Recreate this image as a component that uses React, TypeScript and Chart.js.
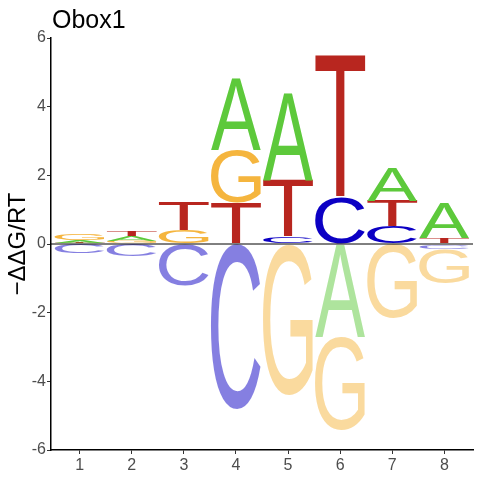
import { useEffect, useRef } from 'react';
import { Chart, registerables } from 'chart.js';

Chart.register(...registerables);

// positions along the motif
const positions = [1, 2, 3, 4, 5, 6, 7, 8];
const bases = ['A', 'C', 'G', 'T'];

const scoreA = [0.08, 0.13, 0, 2.07, 2.54, -2.71, 0.97, 1.02];
const scoreC = [-0.26, -0.36, -1.21, -4.81, 0.2, 1.34, 0.5, -0.14];
const scoreG = [0.17, 0.09, 0.39, 1.54, -4.39, -2.72, -2.16, -1.0];
const scoreT = [0.04, 0.16, 0.84, 1.19, 1.66, 4.15, 0.74, 0.17];

const yTicks = [-6, -4, -2, 0, 2, 4, 6];

const baseColors: Record<string, string> = {
    A: '#5dc93b',
    C: '#0c00c4',
    G: '#f5b53e',
    T: '#b8261f'
};

const FONT = '"Liberation Sans", Arial, sans-serif';

function buildLayers() {
    const scores: Record<string, number[]> = { A: scoreA, C: scoreC, G: scoreG, T: scoreT };
    const pos: { letter: string; value: number }[][] = [];
    const neg: { letter: string; value: number }[][] = [];
    positions.forEach((_, j) => {
        const all = bases.map((b) => ({ letter: b, value: scores[b][j] }));
        pos.push(all.filter((e) => e.value > 0).sort((a, b) => a.value - b.value));
        neg.push(all.filter((e) => e.value < 0).sort((a, b) => b.value - a.value));
    });
    const datasets: any[] = [];
    [pos, neg].forEach((side) => {
        for (let k = 0; k < bases.length; k++) {
            datasets.push({
                data: positions.map((p, j) => ({ x: p, y: side[j][k] ? side[j][k].value : 0 })),
                letters: positions.map((_, j) => (side[j][k] ? side[j][k].letter : '')),
                backgroundColor: 'rgba(0,0,0,0)',
                borderWidth: 0
            });
        }
    });
    return datasets;
}

function drawGlyph(ctx: CanvasRenderingContext2D, letter: string, left: number, top: number, w: number, h: number) {
    ctx.save();
    ctx.font = `100px ${FONT}`;
    ctx.textAlign = 'left';
    ctx.textBaseline = 'alphabetic';
    const m = ctx.measureText(letter);
    const gw = m.actualBoundingBoxLeft + m.actualBoundingBoxRight;
    const gh = m.actualBoundingBoxAscent + m.actualBoundingBoxDescent;
    ctx.translate(left, top);
    ctx.scale(w / gw, h / gh);
    ctx.fillText(letter, m.actualBoundingBoxLeft, m.actualBoundingBoxAscent);
    ctx.restore();
}

const logoPlugin = {
    id: 'logoLetters',
    afterDatasetsDraw(chart: any) {
        const ctx: CanvasRenderingContext2D = chart.ctx;
        chart.data.datasets.forEach((ds: any, i: number) => {
            const meta = chart.getDatasetMeta(i);
            meta.data.forEach((bar: any, j: number) => {
                const letter = ds.letters[j];
                if (!letter) return;
                const { x, y, base, width } = bar.getProps(['x', 'y', 'base', 'width'], true);
                const h = Math.abs(base - y);
                if (h <= 0) return;
                const value = ds.data[j].y;
                ctx.save();
                ctx.fillStyle = baseColors[letter];
                ctx.globalAlpha = value < 0 ? 0.5 : 1;
                drawGlyph(ctx, letter, x - width / 2, Math.min(y, base), width, h);
                ctx.restore();
            });
        });

        // zero line
        const { left, right } = chart.chartArea;
        const y0 = chart.scales.y.getPixelForValue(0);
        ctx.save();
        ctx.strokeStyle = '#000000';
        ctx.lineWidth = 1;
        ctx.beginPath();
        ctx.moveTo(left, y0);
        ctx.lineTo(right, y0);
        ctx.stroke();
        ctx.restore();
    },
    afterDraw(chart: any) {
        const ctx: CanvasRenderingContext2D = chart.ctx;
        ctx.save();
        ctx.fillStyle = '#000000';
        ctx.font = `25px ${FONT}`;
        ctx.textAlign = 'left';
        ctx.textBaseline = 'alphabetic';
        ctx.fillText('Obox1', 52, 28);

        const { top, bottom } = chart.chartArea;
        ctx.translate(18, (top + bottom) / 2);
        ctx.rotate(-Math.PI / 2);
        ctx.font = `24px ${FONT}`;
        ctx.textAlign = 'center';
        ctx.textBaseline = 'middle';
        ctx.fillText('\u2212\u0394\u0394G/RT', 0, 0);
        ctx.restore();
    }
};

export default function App() {
    const canvasRef = useRef<HTMLCanvasElement>(null);
    const chartRef = useRef<Chart | null>(null);

    useEffect(() => {
        if (!canvasRef.current) return;
        if (chartRef.current) {
            chartRef.current.destroy();
        }
        const ctx = canvasRef.current.getContext('2d');
        if (!ctx) return;

        chartRef.current = new Chart(ctx, {
            type: 'bar',
            data: { datasets: buildLayers() },
            plugins: [logoPlugin],
            options: {
                animation: false,
                responsive: false,
                maintainAspectRatio: false,
                events: [],
                layout: { padding: { top: 38, right: 7, left: 0, bottom: 0 } },
                datasets: {
                    bar: { barPercentage: 0.96, categoryPercentage: 1 }
                },
                plugins: {
                    legend: { display: false },
                    tooltip: { enabled: false },
                    title: { display: false }
                },
                scales: {
                    x: {
                        type: 'linear',
                        stacked: true,
                        offset: false,
                        min: 0.45,
                        max: 8.55,
                        afterBuildTicks: (scale: any) => {
                            scale.ticks = positions.map((v) => ({ value: v }));
                        },
                        afterFit: (scale: any) => {
                            scale.height = 30;
                        },
                        grid: {
                            display: true,
                            offset: false,
                            drawOnChartArea: false,
                            drawTicks: true,
                            tickLength: 4,
                            color: '#333333',
                            lineWidth: 1
                        },
                        border: { display: true, color: '#000000', width: 1.5 },
                        ticks: {
                            color: '#4d4d4d',
                            padding: 2,
                            font: { family: FONT, size: 16 },
                            callback: (v: any) => String(v)
                        }
                    },
                    y: {
                        type: 'linear',
                        stacked: true,
                        min: -6,
                        max: 6,
                        afterBuildTicks: (scale: any) => {
                            scale.ticks = yTicks.map((v) => ({ value: v }));
                        },
                        afterFit: (scale: any) => {
                            scale.width = 51;
                        },
                        grid: {
                            display: true,
                            drawOnChartArea: false,
                            drawTicks: true,
                            tickLength: 4,
                            color: '#333333',
                            lineWidth: 1
                        },
                        border: { display: true, color: '#000000', width: 1.5 },
                        ticks: {
                            color: '#4d4d4d',
                            padding: 1,
                            font: { family: FONT, size: 16 },
                            callback: (v: any) => String(v)
                        }
                    }
                }
            } as any
        });

        return () => {
            if (chartRef.current) {
                chartRef.current.destroy();
                chartRef.current = null;
            }
        };
    }, []);

    return (
        <div style={{ position: 'fixed', left: 0, top: 0, width: 480, height: 480, background: '#ffffff' }}>
            <canvas ref={canvasRef} width={480} height={480} style={{ width: '480px', height: '480px' }} />
        </div>
    );
}
